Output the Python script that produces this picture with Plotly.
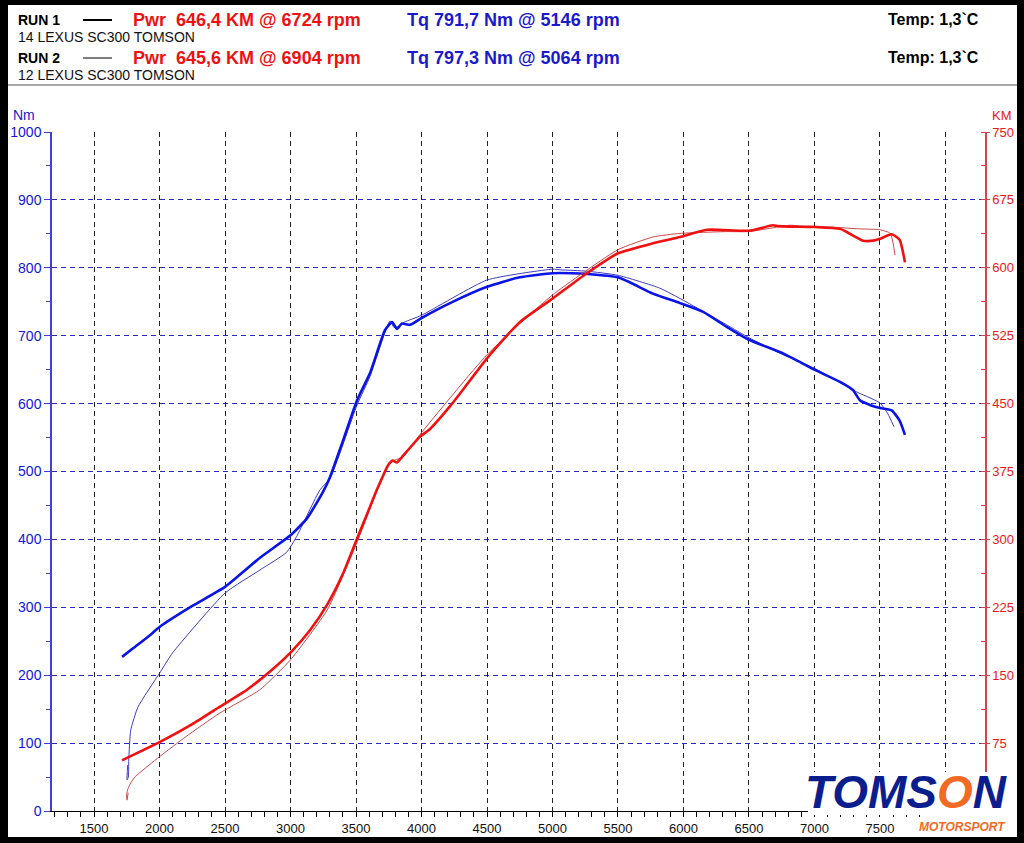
import plotly.graph_objects as go

# ---------------- data ----------------
run1_tq_rpm = [1714, 1800, 1927, 2000, 2250, 2500, 2767, 3000, 3126, 3248, 3302, 3400, 3508, 3607,
               3721, 3775, 3813, 3851, 3912, 4000, 4218, 4500, 4750, 5000, 5146, 5263, 5500, 5767,
               5973, 6150, 6330, 6500, 6760, 7000, 7195, 7294, 7347, 7450, 7515, 7590, 7650, 7691]
run1_tq = [227, 240, 259, 271, 302, 330, 373, 406, 431, 470, 492, 545, 605, 645,
           708, 720, 710, 718, 716, 726, 748, 772, 786, 792, 792, 791, 786, 762,
           748, 735, 713, 694, 674, 650, 632, 620, 605, 596, 593, 590, 575, 554]

run1_pw_rpm = [1714, 2000, 2250, 2458, 2668, 2850, 3000, 3150, 3280, 3400, 3500, 3590, 3660, 3745,
               3780, 3812, 3851, 3985, 4065, 4240, 4500, 4750, 5000, 5263, 5500, 5767, 5973, 6180,
               6500, 6683, 6724, 7000, 7195, 7370, 7450, 7500, 7590, 7650, 7691]
run1_pw = [56, 76, 96, 115, 134, 155, 175, 200, 228, 262, 298, 330, 355, 382,
           387, 385, 391, 413, 422, 451, 500, 540, 566, 594, 616, 627, 634, 642,
           641, 647, 646, 645, 643, 630, 630, 632, 637, 631, 606]

run2_tq_rpm = [1757, 1752, 1762, 1765, 1780, 1835, 2000, 2100, 2500, 2767, 2970, 3046, 3225, 3302,
               3508, 3607, 3721, 3760, 3790, 3830, 3870, 4000, 4500, 5000, 5064, 5263, 5500, 5820,
               6000, 6330, 6500, 6760, 7000, 7294, 7347, 7500, 7560, 7607]
run2_tq = [68, 46, 50, 75, 119, 153, 203, 233, 321, 355, 381, 404, 473, 490,
           598, 640, 705, 722, 712, 714, 720, 730, 782, 798, 797, 795, 789, 770,
           752, 716, 697, 672, 652, 620, 615, 601, 585, 566]

run2_pw_rpm = [1760, 1752, 1748, 1760, 1780, 1815, 2000, 2200, 2458, 2767, 3000, 3280, 3500, 3700,
               3760, 3800, 3850, 4000, 4500, 5000, 5500, 5767, 5973, 6330, 6500, 6813, 6904, 7000,
               7347, 7500, 7580, 7615]
run2_pw = [20, 12, 18, 25, 31, 38, 60, 82, 108, 134, 167, 222, 294, 368,
           384, 388, 390, 418, 504, 570, 620, 634, 638, 640, 640, 647, 646, 646,
           643, 642, 638, 614]

x_ticks = [1500, 2000, 2500, 3000, 3500, 4000, 4500, 5000, 5500, 6000, 6500, 7000, 7500]
km_ticks = [75, 150, 225, 300, 375, 450, 525, 600, 675, 750]

# ---------------- styling ----------------
W, H = 1024, 843
L, R, T, B = 52, 985, 132, 811
FONT = "Liberation Sans, Arial, sans-serif"
BLUE_T, BLUE_t = "#0a14e6", "#3c3cc0"
RED_T, RED_t = "#f01010", "#c84848"


def px(x):
    return (x - L) / (R - L)


def py(y):
    return (B - y) / (B - T)


fig = go.Figure()
fig.add_trace(go.Scatter(x=run2_tq_rpm, y=run2_tq, mode="lines",
                         line=dict(color=BLUE_t, width=1, shape="spline", smoothing=0.5),
                         yaxis="y", showlegend=False))
fig.add_trace(go.Scatter(x=run2_pw_rpm, y=run2_pw, mode="lines",
                         line=dict(color=RED_t, width=1, shape="spline", smoothing=0.5),
                         yaxis="y2", showlegend=False))
fig.add_trace(go.Scatter(x=run1_tq_rpm, y=run1_tq, mode="lines",
                         line=dict(color=BLUE_T, width=2.6, shape="spline", smoothing=0.5),
                         yaxis="y", showlegend=False))
fig.add_trace(go.Scatter(x=run1_pw_rpm, y=run1_pw, mode="lines",
                         line=dict(color=RED_T, width=2.6, shape="spline", smoothing=0.5),
                         yaxis="y2", showlegend=False))

ann = []


def txt(x, y, s, size, color, anchor="left"):
    ann.append(dict(x=px(x), y=py(y), xref="paper", yref="paper", text=s, showarrow=False,
                    xanchor=anchor, yanchor="middle",
                    font=dict(family=FONT, size=size, color=color)))


for row, (run, pwr, tq, desc) in enumerate([
        ("RUN 1", "Pwr&nbsp; 646,4 KM @ 6724 rpm", "Tq 791,7 Nm @ 5146 rpm", "14 LEXUS SC300 TOMSON"),
        ("RUN 2", "Pwr&nbsp; 645,6 KM @ 6904 rpm", "Tq 797,3 Nm @ 5064 rpm", "12 LEXUS SC300 TOMSON")]):
    y0 = 20 + row * 38
    txt(16, y0, "<b>" + run + "</b>", 14, "#000000")
    txt(131, y0, "<b>" + pwr + "</b>", 18, "#ee1111")
    txt(405, y0, "<b>" + tq + "</b>", 18, "#1a1acc")
    txt(886, y0, "<b>Temp: 1,3`C</b>", 16, "#000000")
    txt(16, y0 + 17, desc, 14, "#111111")

txt(24, 115, "Nm", 14, "#1a1ad0", anchor="center")
txt(1002, 115, "KM", 13, "#e81818", anchor="center")

# logo
txt(906, 792, "<b><i>TOMS<span style='color:#f26a24'>O</span>N</i></b>", 46, "#0c1e8e", anchor="center")
txt(962, 827, "<b><i>MOTORSPORT</i></b>", 12, "#f26a24", anchor="center")

shapes = [
    # black frame
    dict(type="rect", xref="paper", yref="paper", x0=px(0), x1=px(W), y0=py(0), y1=py(5),
         fillcolor="black", line_width=0, layer="above"),
    dict(type="rect", xref="paper", yref="paper", x0=px(0), x1=px(W), y0=py(837), y1=py(H),
         fillcolor="black", line_width=0, layer="above"),
    dict(type="rect", xref="paper", yref="paper", x0=px(0), x1=px(8), y0=py(0), y1=py(H),
         fillcolor="black", line_width=0, layer="above"),
    dict(type="rect", xref="paper", yref="paper", x0=px(1017), x1=px(W), y0=py(0), y1=py(H),
         fillcolor="black", line_width=0, layer="above"),
    # header separator
    dict(type="line", xref="paper", yref="paper", x0=px(8), x1=px(1017), y0=py(85), y1=py(85),
         line=dict(color="#555555", width=1.2)),
    # legend line samples
    dict(type="line", xref="paper", yref="paper", x0=px(83), x1=px(112), y0=py(20), y1=py(20),
         line=dict(color="black", width=2)),
    dict(type="line", xref="paper", yref="paper", x0=px(83), x1=px(112), y0=py(58), y1=py(58),
         line=dict(color="black", width=1)),
    # white backing behind logo
    dict(type="rect", xref="paper", yref="paper", x0=px(808), x1=px(1005), y0=py(772), y1=py(815),
         fillcolor="white", line_width=0, layer="above"),
    dict(type="rect", xref="paper", yref="paper", x0=px(922), x1=px(1003), y0=py(814), y1=py(834),
         fillcolor="white", line_width=0, layer="above"),
]

fig.update_layout(
    template="none",
    width=W, height=H,
    margin=dict(l=L, r=W - R, t=T, b=H - B, pad=0, autoexpand=False),
    paper_bgcolor="white", plot_bgcolor="white",
    font=dict(family=FONT),
    xaxis=dict(range=[1179, 8302], tickvals=x_ticks, showgrid=False, showline=True,
               linecolor="black", linewidth=1,
               ticks="outside", ticklen=5, tickcolor="black", zeroline=False, automargin=False,
               tickfont=dict(size=13, color="#111111"),
               minor=dict(ticks="outside", dtick=100, tick0=0, ticklen=5, tickcolor="black",
                          showgrid=False)),
    xaxis2=dict(range=[1179, 8302], dtick=500, tick0=0, overlaying="x", showgrid=True,
                gridcolor="#222222", griddash="5px,4px", gridwidth=1, showticklabels=False,
                showline=False, zeroline=False, automargin=False),
    yaxis=dict(range=[0, 1000], dtick=100, showgrid=True, gridcolor="#2a2ab4", griddash="5px,4px",
               gridwidth=1, showline=True, linecolor="#4040d0", linewidth=1.5, ticks="outside",
               ticklen=6, tickcolor="#4040d0", zeroline=False, automargin=False,
               tickfont=dict(size=14, color="#1414d8"),
               minor=dict(ticks="outside", dtick=50, ticklen=4, tickcolor="#4040d0", showgrid=False)),
    yaxis2=dict(range=[0, 750], tickvals=km_ticks, overlaying="y", side="right", showgrid=False,
                showline=True, linecolor="#d04848", linewidth=1.5, ticks="outside", ticklen=3,
                tickcolor="#d04848", zeroline=False, automargin=False,
                tickfont=dict(size=13, color="#e81818"),
                minor=dict(ticks="inside", dtick=37.5, ticklen=4, tickcolor="#d04848")),
    annotations=ann,
    shapes=shapes,
    showlegend=False,
)
# empty trace on the grid-only x axis so its vertical grid lines are drawn
fig.add_trace(go.Scatter(x=[], y=[], xaxis="x2", yaxis="y", showlegend=False))

fig.write_html("out.html")
